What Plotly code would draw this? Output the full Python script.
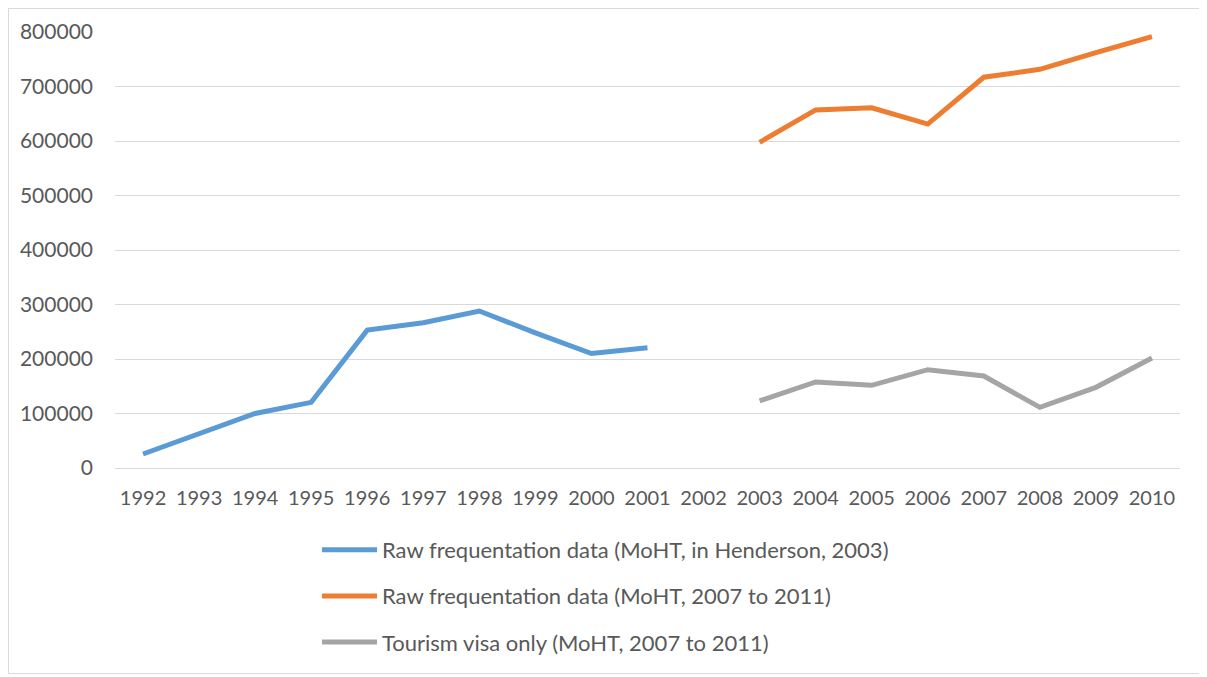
import plotly.graph_objects as go

years = [str(y) for y in range(1992, 2011)]

raw_henderson = [25700, 62000, 100000, 120500, 253000, 266600, 288000, 248000, 210000, 220700,
                 None, None, None, None, None, None, None, None, None]
raw_moht = [None] * 11 + [597600, 657000, 661000, 631000, 717000, 731500, 762000, 791500]
tourism_visa = [None] * 11 + [123000, 157800, 151700, 180400, 168800, 111300, 148000, 201800]

names = [
    "Raw frequentation data (MoHT, in Henderson, 2003)",
    "Raw frequentation data (MoHT, 2007 to 2011)",
    "Tourism visa only (MoHT, 2007 to 2011)",
]
colors = ["#5B9BD5", "#ED7D31", "#A5A5A5"]
series = [raw_henderson, raw_moht, tourism_visa]

FONT = "Lato, 'Open Sans', 'DejaVu Sans', sans-serif"

# The page body has an 8px margin; work in figure coordinates (page - 8).
OFF = 8
W, H = 1207 - OFF, 677 - OFF
L, R, T, B = 115 - OFF, 1180 - OFF, 32 - OFF, 468 - OFF
PW, PH = R - L, B - T

fig = go.Figure()
for i, (n, c, s) in enumerate(zip(names, colors, series)):
    fig.add_trace(go.Scatter(
        x=years, y=s, name=n, mode="lines",
        line=dict(color=c, width=5),
        connectgaps=False, legendgroup=str(i),
    ))

fig.update_layout(
    width=W, height=H,
    margin=dict(l=L, r=W - R, t=T, b=H - B, autoexpand=False),
    paper_bgcolor="white", plot_bgcolor="white",
    font=dict(family=FONT, color="#595959", size=20),
    showlegend=True,
    legend=dict(
        orientation="v", x=(317 - OFF - L) / PW, xanchor="left",
        y=-(529 - OFF - B) / PH, yanchor="top",
        font=dict(size=22, color="#595959"),
        tracegroupgap=14.5, itemwidth=55,
        bgcolor="rgba(0,0,0,0)",
    ),
    xaxis=dict(
        type="category", range=[-0.5, 18.5],
        showgrid=False, showline=False, zeroline=False,
        ticks="", ticklabelstandoff=16,
        tickfont=dict(size=20, color="#595959"),
    ),
    yaxis=dict(
        range=[0, 800000], dtick=100000, tickformat="d",
        showgrid=True, gridcolor="#D9D9D9", gridwidth=1,
        zeroline=True, zerolinecolor="#D9D9D9", zerolinewidth=1,
        showline=False, ticks="", ticklabelstandoff=21,
        tickfont=dict(size=21, color="#595959"),
    ),
    shapes=[dict(type="rect", xref="paper", yref="paper",
                 x0=(0.5 - L) / PW, x1=(W - 3.5 - L) / PW,
                 y0=(B - (H - 3.5)) / PH, y1=(B - 0.5) / PH,
                 line=dict(color="#D9D9D9", width=1), fillcolor="rgba(0,0,0,0)",
                 layer="below")],
)

fig.write_html("out.html")
